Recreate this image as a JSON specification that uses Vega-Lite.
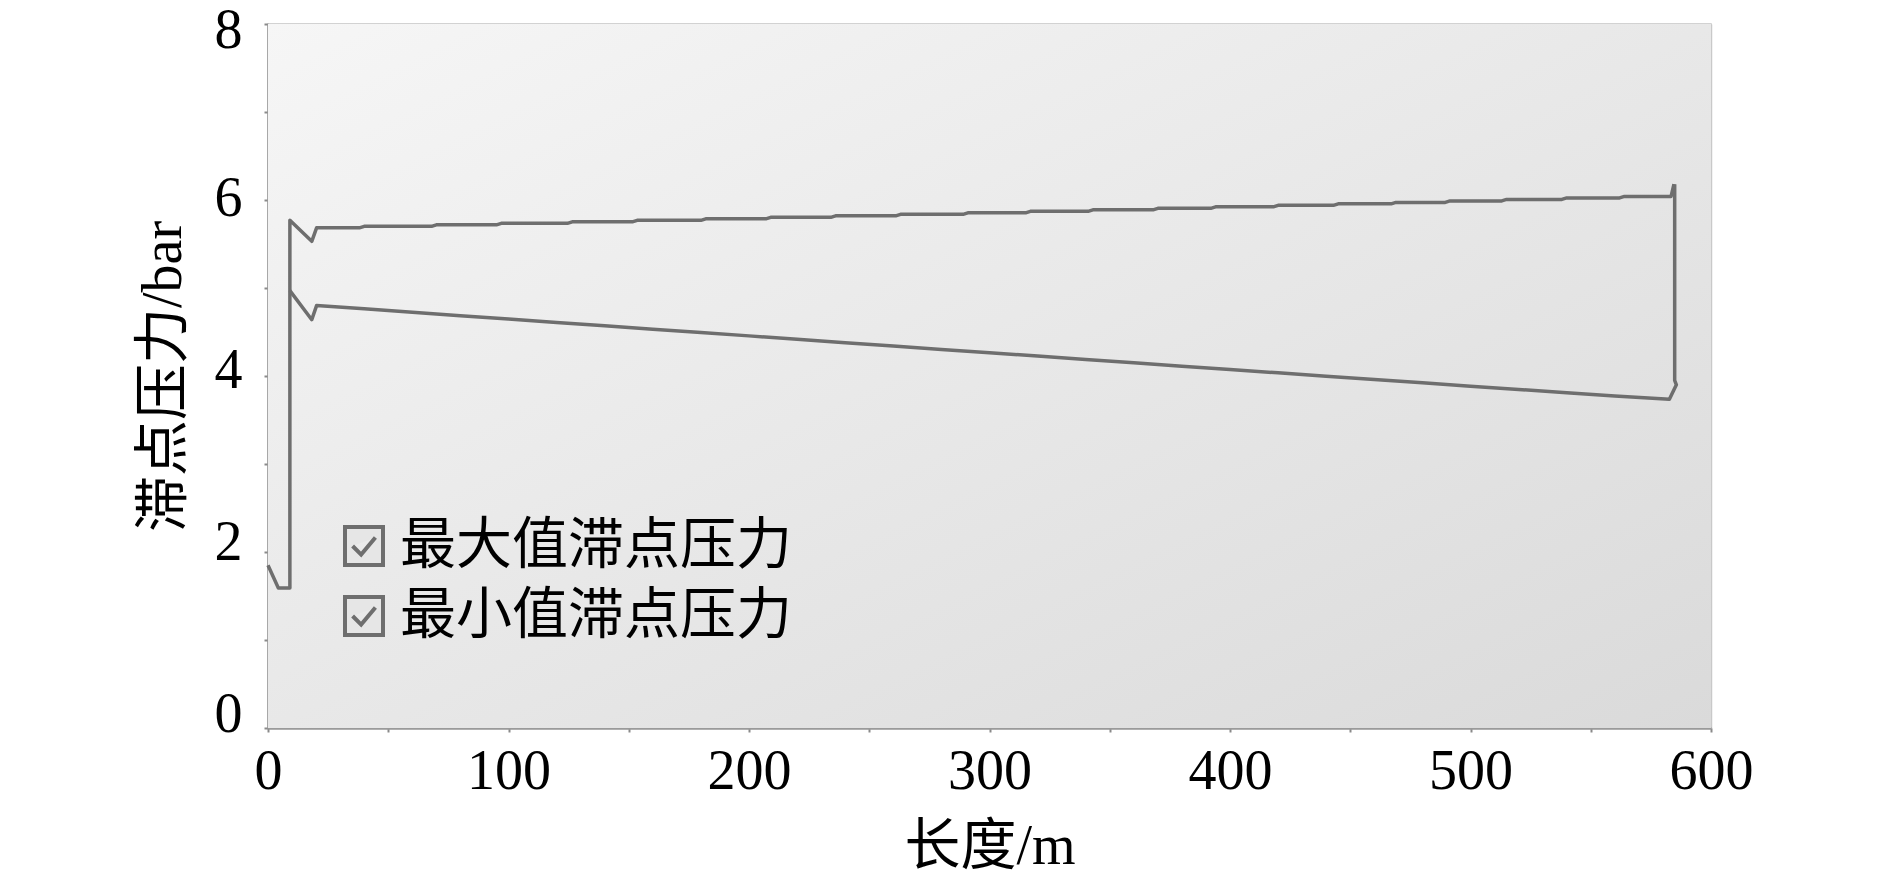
{
  "$schema": "https://vega.github.io/schema/vega-lite/v6.json",
  "width": 1443,
  "height": 704,
  "autosize": "none",
  "padding": {"left": 268, "top": 24, "right": 179, "bottom": 153},
  "background": "white",
  "config": {
    "view": {"stroke": "#c8c8c8", "strokeWidth": 1.5},
    "font": "Liberation Serif, Noto Sans CJK SC"
  },
  "datasets": {
    "lines": [
      {"i": 1, "series": "最大值滞点压力", "length": 0, "pressure": 1.85},
      {"i": 2, "series": "最大值滞点压力", "length": 4.3, "pressure": 1.59},
      {"i": 3, "series": "最大值滞点压力", "length": 9.1, "pressure": 1.59},
      {"i": 4, "series": "最大值滞点压力", "length": 9.1, "pressure": 5.77},
      {"i": 5, "series": "最大值滞点压力", "length": 18.2, "pressure": 5.53},
      {"i": 6, "series": "最大值滞点压力", "length": 20.2, "pressure": 5.684},
      {"i": 7, "series": "最大值滞点压力", "length": 38, "pressure": 5.684},
      {"i": 8, "series": "最大值滞点压力", "length": 40, "pressure": 5.701},
      {"i": 9, "series": "最大值滞点压力", "length": 68, "pressure": 5.701},
      {"i": 10, "series": "最大值滞点压力", "length": 70, "pressure": 5.718},
      {"i": 11, "series": "最大值滞点压力", "length": 95, "pressure": 5.718},
      {"i": 12, "series": "最大值滞点压力", "length": 97, "pressure": 5.735},
      {"i": 13, "series": "最大值滞点压力", "length": 124.5, "pressure": 5.735},
      {"i": 14, "series": "最大值滞点压力", "length": 126.5, "pressure": 5.752},
      {"i": 15, "series": "最大值滞点压力", "length": 151.5, "pressure": 5.752},
      {"i": 16, "series": "最大值滞点压力", "length": 153.5, "pressure": 5.769},
      {"i": 17, "series": "最大值滞点压力", "length": 180, "pressure": 5.769},
      {"i": 18, "series": "最大值滞点压力", "length": 182, "pressure": 5.786},
      {"i": 19, "series": "最大值滞点压力", "length": 207, "pressure": 5.786},
      {"i": 20, "series": "最大值滞点压力", "length": 209, "pressure": 5.803},
      {"i": 21, "series": "最大值滞点压力", "length": 234, "pressure": 5.803},
      {"i": 22, "series": "最大值滞点压力", "length": 236, "pressure": 5.82},
      {"i": 23, "series": "最大值滞点压力", "length": 261, "pressure": 5.82},
      {"i": 24, "series": "最大值滞点压力", "length": 263, "pressure": 5.837},
      {"i": 25, "series": "最大值滞点压力", "length": 289, "pressure": 5.837},
      {"i": 26, "series": "最大值滞点压力", "length": 291, "pressure": 5.854},
      {"i": 27, "series": "最大值滞点压力", "length": 315, "pressure": 5.854},
      {"i": 28, "series": "最大值滞点压力", "length": 317, "pressure": 5.871},
      {"i": 29, "series": "最大值滞点压力", "length": 341, "pressure": 5.871},
      {"i": 30, "series": "最大值滞点压力", "length": 343, "pressure": 5.888},
      {"i": 31, "series": "最大值滞点压力", "length": 368, "pressure": 5.888},
      {"i": 32, "series": "最大值滞点压力", "length": 370, "pressure": 5.905},
      {"i": 33, "series": "最大值滞点压力", "length": 392, "pressure": 5.905},
      {"i": 34, "series": "最大值滞点压力", "length": 394, "pressure": 5.922},
      {"i": 35, "series": "最大值滞点压力", "length": 418, "pressure": 5.922},
      {"i": 36, "series": "最大值滞点压力", "length": 420, "pressure": 5.939},
      {"i": 37, "series": "最大值滞点压力", "length": 443, "pressure": 5.939},
      {"i": 38, "series": "最大值滞点压力", "length": 445, "pressure": 5.956},
      {"i": 39, "series": "最大值滞点压力", "length": 467, "pressure": 5.956},
      {"i": 40, "series": "最大值滞点压力", "length": 469, "pressure": 5.973},
      {"i": 41, "series": "最大值滞点压力", "length": 489.5, "pressure": 5.973},
      {"i": 42, "series": "最大值滞点压力", "length": 491.5, "pressure": 5.99},
      {"i": 43, "series": "最大值滞点压力", "length": 513, "pressure": 5.99},
      {"i": 44, "series": "最大值滞点压力", "length": 515, "pressure": 6.007},
      {"i": 45, "series": "最大值滞点压力", "length": 538, "pressure": 6.007},
      {"i": 46, "series": "最大值滞点压力", "length": 540, "pressure": 6.024},
      {"i": 47, "series": "最大值滞点压力", "length": 562, "pressure": 6.024},
      {"i": 48, "series": "最大值滞点压力", "length": 564, "pressure": 6.041},
      {"i": 49, "series": "最大值滞点压力", "length": 583.4, "pressure": 6.041},
      {"i": 50, "series": "最大值滞点压力", "length": 584.6, "pressure": 6.18},
      {"i": 101, "series": "最小值滞点压力", "length": 9.1, "pressure": 4.97},
      {"i": 102, "series": "最小值滞点压力", "length": 18.2, "pressure": 4.64},
      {"i": 103, "series": "最小值滞点压力", "length": 20.2, "pressure": 4.8},
      {"i": 104, "series": "最小值滞点压力", "length": 40, "pressure": 4.765},
      {"i": 105, "series": "最小值滞点压力", "length": 60, "pressure": 4.725},
      {"i": 106, "series": "最小值滞点压力", "length": 80, "pressure": 4.686},
      {"i": 107, "series": "最小值滞点压力", "length": 100, "pressure": 4.648},
      {"i": 108, "series": "最小值滞点压力", "length": 120, "pressure": 4.609},
      {"i": 109, "series": "最小值滞点压力", "length": 140, "pressure": 4.571},
      {"i": 110, "series": "最小值滞点压力", "length": 160, "pressure": 4.532},
      {"i": 111, "series": "最小值滞点压力", "length": 180, "pressure": 4.494},
      {"i": 112, "series": "最小值滞点压力", "length": 200, "pressure": 4.456},
      {"i": 113, "series": "最小值滞点压力", "length": 220, "pressure": 4.417},
      {"i": 114, "series": "最小值滞点压力", "length": 240, "pressure": 4.379},
      {"i": 115, "series": "最小值滞点压力", "length": 260, "pressure": 4.341},
      {"i": 116, "series": "最小值滞点压力", "length": 280, "pressure": 4.302},
      {"i": 117, "series": "最小值滞点压力", "length": 300, "pressure": 4.264},
      {"i": 118, "series": "最小值滞点压力", "length": 320, "pressure": 4.226},
      {"i": 119, "series": "最小值滞点压力", "length": 340, "pressure": 4.188},
      {"i": 120, "series": "最小值滞点压力", "length": 360, "pressure": 4.15},
      {"i": 121, "series": "最小值滞点压力", "length": 380, "pressure": 4.112},
      {"i": 122, "series": "最小值滞点压力", "length": 400, "pressure": 4.074},
      {"i": 123, "series": "最小值滞点压力", "length": 420, "pressure": 4.036},
      {"i": 124, "series": "最小值滞点压力", "length": 440, "pressure": 3.998},
      {"i": 125, "series": "最小值滞点压力", "length": 460, "pressure": 3.96},
      {"i": 126, "series": "最小值滞点压力", "length": 480, "pressure": 3.922},
      {"i": 127, "series": "最小值滞点压力", "length": 500, "pressure": 3.884},
      {"i": 128, "series": "最小值滞点压力", "length": 520, "pressure": 3.847},
      {"i": 129, "series": "最小值滞点压力", "length": 540, "pressure": 3.81},
      {"i": 130, "series": "最小值滞点压力", "length": 560, "pressure": 3.773},
      {"i": 131, "series": "最小值滞点压力", "length": 582.7, "pressure": 3.735},
      {"i": 132, "series": "最小值滞点压力", "length": 585.6, "pressure": 3.9},
      {"i": 133, "series": "最小值滞点压力", "length": 584.9, "pressure": 3.95},
      {"i": 134, "series": "最小值滞点压力", "length": 584.9, "pressure": 6.18}
    ]
  },
  "encoding": {
    "x": {
      "field": "length",
      "type": "quantitative",
      "scale": {"domain": [0, 600], "nice": false, "zero": false},
      "axis": {
        "title": "长度/m",
        "values": [0, 50, 100, 150, 200, 250, 300, 350, 400, 450, 500, 550, 600],
        "labelExpr": "datum.value % 100 == 0 ? datum.label : ''",
        "grid": true,
        "gridColor": {"condition": {"test": "datum.value % 100 != 0", "value": "transparent"}, "value": "#c9c9c9"},
        "gridWidth": 1.5,
        "domainColor": "#9a9a9a",
        "domainWidth": 2.5,
        "tickColor": "#8a8a8a",
        "tickSize": 4,
        "tickWidth": 2,
        "labelFontSize": 56,
        "labelColor": "black",
        "labelPadding": 12,
        "labelFlush": false,
        "labelOverlap": false,
        "titleFontSize": 56,
        "titleFontWeight": "normal",
        "titleColor": "black",
        "titlePadding": 20
      }
    },
    "y": {
      "field": "pressure",
      "type": "quantitative",
      "scale": {"domain": [0, 8], "nice": false},
      "axis": {
        "title": "滞点压力/bar",
        "values": [0, 1, 2, 3, 4, 5, 6, 7, 8],
        "labelExpr": "datum.value % 2 == 0 ? datum.label : ''",
        "labelOffset": {
          "condition": [
            {"test": "datum.value == 0", "value": -14},
            {"test": "datum.value == 2", "value": -10},
            {"test": "datum.value == 4", "value": -6},
            {"test": "datum.value == 6", "value": -2}
          ],
          "value": 6
        },
        "grid": true,
        "gridColor": {"condition": {"test": "datum.value % 2 != 0", "value": "transparent"}, "value": "#c9c9c9"},
        "gridWidth": 1.5,
        "domainColor": "#9a9a9a",
        "domainWidth": 2.5,
        "tickColor": "#8a8a8a",
        "tickSize": 4,
        "tickWidth": 2,
        "labelFontSize": 56,
        "labelColor": "black",
        "labelPadding": 22,
        "labelFlush": false,
        "labelOverlap": false,
        "titleFontSize": 56,
        "titleFontWeight": "normal",
        "titleColor": "black",
        "titlePadding": 22
      }
    }
  },
  "layer": [
    {
      "data": {"values": [{"length": 0, "length_end": 600, "pressure": 0, "pressure_end": 8}]},
      "mark": {
        "type": "rect",
        "fill": {
          "gradient": "linear",
          "x1": 0, "y1": 0, "x2": 1, "y2": 1,
          "stops": [
            {"offset": 0, "color": "#f6f6f6"},
            {"offset": 1, "color": "#dadada"}
          ]
        }
      },
      "encoding": {
        "x2": {"field": "length_end"},
        "y2": {"field": "pressure_end"}
      }
    },
    {
      "data": {"name": "lines"},
      "mark": {"type": "line", "strokeWidth": 3.5, "strokeJoin": "round"},
      "encoding": {
        "color": {
          "field": "series",
          "type": "nominal",
          "scale": {"domain": ["最大值滞点压力", "最小值滞点压力"], "range": ["#6e6e6e", "#6e6e6e"]},
          "legend": {
            "orient": "none",
            "legendX": 68,
            "legendY": 494,
            "title": null,
            "padding": 0,
            "symbolType": "M-1,-1H1V1H-1Z M-0.6,0 L-0.15,0.45 L0.6,-0.45",
            "symbolSize": 1444,
            "symbolStrokeWidth": 4,
            "symbolFillColor": "#e6e6e6",
            "symbolStrokeColor": "#8c8c8c",
            "labelFontSize": 56,
            "labelColor": "black",
            "labelOffset": 8,
            "labelLimit": 800,
            "rowPadding": 14
          }
        },
        "order": {"field": "i", "type": "quantitative"}
      }
    }
  ]
}
